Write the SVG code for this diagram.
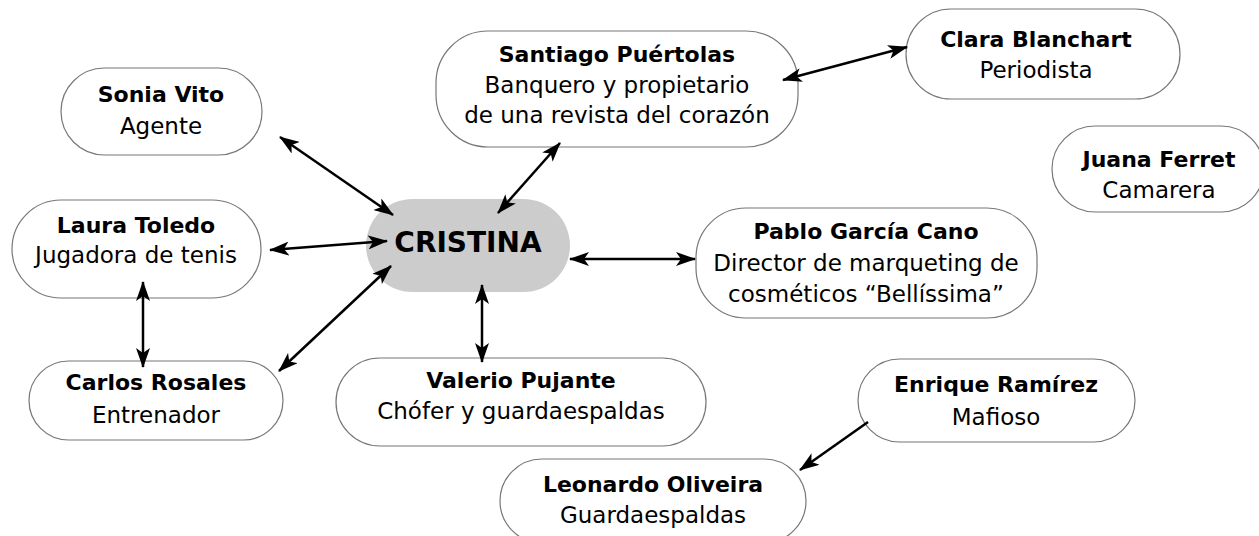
<svg xmlns="http://www.w3.org/2000/svg" width="1259" height="536" viewBox="0 0 1259 536">
<defs>
<style>
.box{fill:#fff;stroke:#777;stroke-width:1.2}
.center{fill:#cccccc;stroke:none}
text{font-family:"DejaVu Sans","Open Sans",sans-serif;font-size:23px;fill:#000;text-anchor:middle}
.b{font-weight:bold;font-size:22px}
.big{font-size:28px;font-weight:bold}
.con line{stroke:#000;stroke-width:2.5}
</style>
<marker id="ah" viewBox="0 0 20 14" markerWidth="20" markerHeight="14" refX="19" refY="7" orient="auto-start-reverse" markerUnits="userSpaceOnUse">
<path d="M0,0 L20,7 L0,14 L5,7 z" fill="#000"/>
</marker>
</defs>
<rect width="1259" height="536" fill="#fff"/>
<g id="cristina">
<rect class="center" x="366" y="199" width="204" height="93" rx="46.5"/>
<text class="big" x="468" y="252">CRISTINA</text>
</g>
<g id="sonia">
<rect class="box" x="61" y="68" width="201" height="87" rx="43.5"/>
<text class="b" x="161" y="102">Sonia Vito</text>
<text x="161" y="134">Agente</text>
</g>
<g id="laura">
<rect class="box" x="12" y="200" width="249" height="98" rx="49"/>
<text class="b" x="136" y="233">Laura Toledo</text>
<text x="136" y="263">Jugadora de tenis</text>
</g>
<g id="carlos">
<rect class="box" x="29" y="361" width="254" height="79" rx="39.5"/>
<text class="b" x="156" y="390">Carlos Rosales</text>
<text x="156" y="423">Entrenador</text>
</g>
<g id="valerio">
<rect class="box" x="336" y="358" width="370" height="88" rx="44"/>
<text class="b" x="521" y="388">Valerio Pujante</text>
<text x="521" y="419">Chófer y guardaespaldas</text>
</g>
<g id="leonardo">
<rect class="box" x="500" y="459" width="306" height="84" rx="42"/>
<text class="b" x="653" y="492">Leonardo Oliveira</text>
<text x="653" y="523">Guardaespaldas</text>
</g>
<g id="enrique">
<rect class="box" x="858" y="359" width="277" height="83" rx="41.5"/>
<text class="b" x="996" y="392">Enrique Ramírez</text>
<text x="996" y="425">Mafioso</text>
</g>
<g id="pablo">
<rect class="box" x="696" y="208" width="341" height="110" rx="50"/>
<text class="b" x="866" y="239">Pablo García Cano</text>
<text x="866" y="271">Director de marqueting de</text>
<text x="866" y="302">cosméticos “Bellíssima”</text>
</g>
<g id="juana">
<rect class="box" x="1052" y="126" width="212" height="86" rx="43"/>
<text class="b" x="1159" y="167">Juana Ferret</text>
<text x="1159" y="198">Camarera</text>
</g>
<g id="clara">
<rect class="box" x="906" y="9" width="274" height="90" rx="45"/>
<text class="b" x="1036" y="47">Clara Blanchart</text>
<text x="1036" y="78">Periodista</text>
</g>
<g id="santiago">
<rect class="box" x="436" y="31" width="362" height="116" rx="52"/>
<text class="b" x="617" y="62">Santiago Puértolas</text>
<text x="617" y="93">Banquero y propietario</text>
<text x="617" y="123">de una revista del corazón</text>
</g>
<g class="con" id="connectors">
<line x1="280" y1="137" x2="393" y2="215" marker-start="url(#ah)" marker-end="url(#ah)"/>
<line x1="270" y1="250" x2="387" y2="241" marker-start="url(#ah)" marker-end="url(#ah)"/>
<line x1="560" y1="143" x2="498" y2="213" marker-start="url(#ah)" marker-end="url(#ah)"/>
<line x1="783" y1="80" x2="907" y2="47" marker-start="url(#ah)" marker-end="url(#ah)"/>
<line x1="570" y1="259" x2="695" y2="259" marker-start="url(#ah)" marker-end="url(#ah)"/>
<line x1="482" y1="285" x2="482" y2="362" marker-start="url(#ah)" marker-end="url(#ah)"/>
<line x1="391" y1="266" x2="279" y2="371" marker-start="url(#ah)" marker-end="url(#ah)"/>
<line x1="143" y1="282" x2="143" y2="367" marker-start="url(#ah)" marker-end="url(#ah)"/>
<line x1="868" y1="422" x2="800" y2="470" marker-end="url(#ah)"/>
</g>
</svg>
